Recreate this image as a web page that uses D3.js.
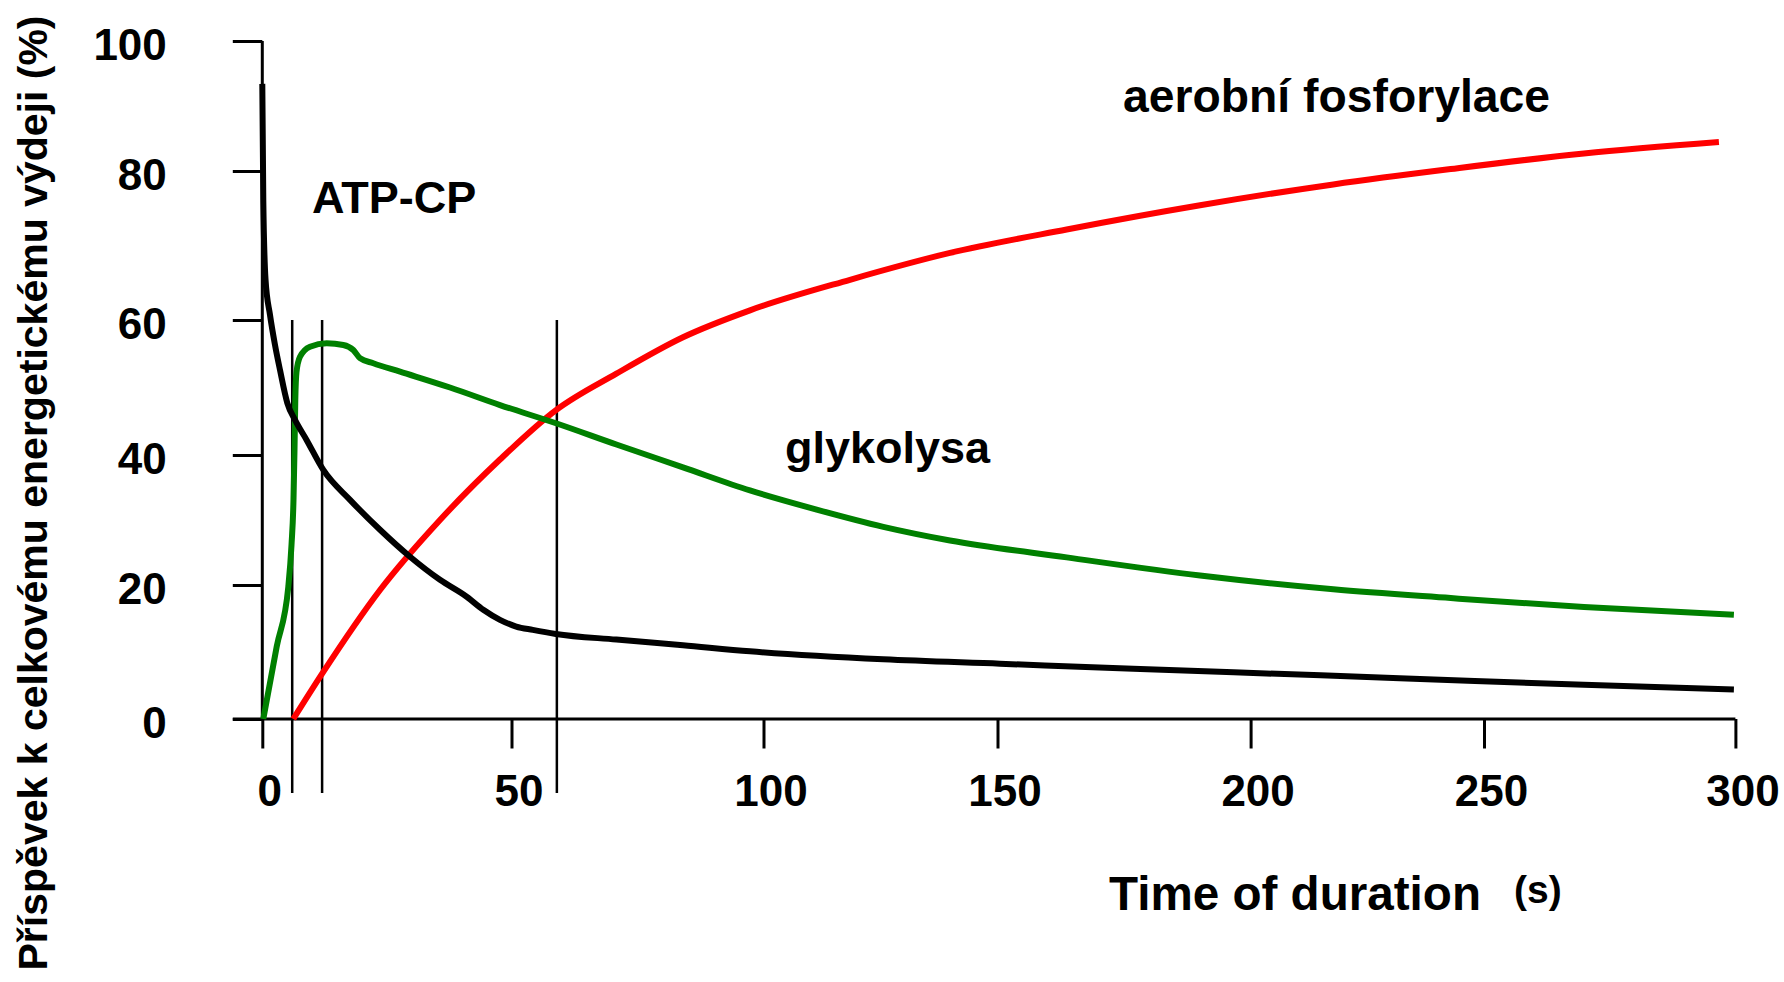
<!DOCTYPE html>
<html>
<head>
<meta charset="utf-8">
<script src="https://cdn.jsdelivr.net/npm/d3@7/dist/d3.min.js"></script>
<style>
  html, body { margin: 0; padding: 0; background: #fff; }
  svg { display: block; font-family: "Liberation Sans", Arial, sans-serif; }
</style>
</head>
<body>
<svg id="chart" width="1784" height="982"></svg>
<script>
// ---- data ----
const timeTicks = [0, 50, 100, 150, 200, 250, 300];
const percentTicks = [0, 20, 40, 60, 80, 100];
const phaseMarkers = [6, 12, 59];

const atpcpTime  = [0, 0.2, 0.65, 1.54, 2.55, 3.55, 5.02, 6.56, 8.91, 12.24, 17.6, 23.62, 29.64, 35.65, 41.01, 44.34, 47.69, 50.93, 54.23, 58.79, 70.81, 84.03, 97.32, 125.6, 150.49, 176.82, 203.36, 231.92, 269.87, 299.7];
const atpcpValue = [93.4, 76.0, 65.4, 60.7, 56.3, 52.6, 47.7, 45.2, 42.2, 37.7, 33.1, 28.5, 24.35, 20.8, 18.25, 16.3, 14.8, 13.8, 13.3, 12.7, 11.85, 11.0, 10.1, 8.9, 8.25, 7.5, 6.8, 6.1, 5.1, 4.4];

const glyTime  = [0.2, 2.89, 5.22, 5.86, 6.26, 6.46, 6.62, 6.86, 7.56, 9.57, 12.92, 16.25, 18.26, 19.6, 22.27, 27.63, 37.66, 47.69, 58.83, 70.81, 84.03, 97.32, 111.36, 125.6, 139.85, 163.67, 190.02, 217.72, 242.87, 269.87, 299.7];
const glyValue = [0, 10.8, 19.75, 26.15, 33.1, 40.7, 48.15, 52.3, 54.55, 56.05, 56.55, 56.3, 55.55, 54.35, 53.6, 52.35, 50.0, 47.4, 44.7, 41.55, 38.1, 34.55, 31.6, 28.95, 26.85, 24.25, 21.45, 19.35, 18.05, 16.7, 15.55];

const aerTime  = [6.22, 12.04, 23.62, 35.65, 47.69, 58.83, 70.81, 84.03, 97.32, 118.48, 139.85, 163.67, 190.02, 217.72, 242.87, 269.87, 296.72];
const aerValue = [0, 6.8, 19.25, 30.0, 39.3, 46.65, 52.05, 57.45, 61.3, 65.4, 69.0, 72.15, 75.4, 78.2, 80.3, 82.7, 84.45];

const seriesNames = ["ATP-CP", "glykolysa", "aerobní fosforylace"];
const yTitle = "Příspěvek k celkovému energetickému výdeji (%)";
const xTitle = "Time of duration";
const xUnit = "(s)";

// ---- drawing ----
const svg = d3.select("#chart");
const FONT = '"Liberation Sans", Arial, sans-serif';

// the reference axis is hand-calibrated (uneven tick spacing), so use polylinear scales
const x = d3.scaleLinear().domain(timeTicks).range([262.3, 511.5, 763.5, 997.5, 1250.6, 1484, 1735.4]);
const y = d3.scaleLinear().domain(percentTicks).range([719, 585, 455, 320, 171, 41]);

const tickLen = 29.5;

// Y axis
const yAxis = d3.axisLeft(y).tickValues(percentTicks).tickSize(tickLen).tickSizeOuter(0).tickPadding(66);
const gy = svg.append("g").attr("transform", `translate(${x(0)},0)`).call(yAxis);
gy.select(".domain").remove();
gy.selectAll(".tick line").attr("stroke", "#000").attr("stroke-width", 3);
gy.selectAll(".tick text").attr("dy", "0.42em")
  .style("font-family", FONT).style("font-size", "44px").style("font-weight", "bold").attr("fill", "#000");

// X axis
const xAxis = d3.axisBottom(x).tickValues(timeTicks).tickSize(tickLen).tickSizeOuter(0).tickPadding(26);
const gx = svg.append("g").attr("transform", `translate(0,${y(0)})`).call(xAxis);
gx.select(".domain").remove();
gx.selectAll(".tick line").attr("stroke", "#000").attr("stroke-width", 3);
gx.selectAll(".tick text").attr("dx", 7)
  .style("font-family", FONT).style("font-size", "44px").style("font-weight", "bold").attr("fill", "#000");

// axis lines
svg.append("line").attr("x1", x(0)).attr("x2", x(0)).attr("y1", y(100)).attr("y2", y(0))
  .attr("stroke", "#000").attr("stroke-width", 3);
svg.append("line").attr("x1", x(0) - tickLen).attr("x2", x(300)).attr("y1", y(0)).attr("y2", y(0))
  .attr("stroke", "#000").attr("stroke-width", 3.2);

// phase marker lines
svg.append("g").selectAll("line").data(phaseMarkers).join("line")
  .attr("x1", d => x(d)).attr("x2", d => x(d))
  .attr("y1", y(60)).attr("y2", y(0) + 74)
  .attr("stroke", "#000").attr("stroke-width", 2.5);

// curves
const line = d3.line().x(d => x(d[0])).y(d => y(d[1])).curve(d3.curveMonotoneX);
const series = [
  { t: aerTime, v: aerValue, color: "#ff0000" },
  { t: glyTime, v: glyValue, color: "#008000" },
  { t: atpcpTime, v: atpcpValue, color: "#000000" }
];
series.forEach(s => {
  svg.append("path")
    .datum(s.t.map((t, i) => [t, s.v[i]]))
    .attr("d", line)
    .attr("fill", "none")
    .attr("stroke", s.color)
    .attr("stroke-width", 6)
    .attr("stroke-linejoin", "round");
});

// series labels
svg.append("text").attr("x", 312).attr("y", 213).text(seriesNames[0])
  .style("font-family", FONT).style("font-size", "45px").style("font-weight", "bold");
svg.append("text").attr("x", 785).attr("y", 463).text(seriesNames[1])
  .style("font-family", FONT).style("font-size", "45px").style("font-weight", "bold");
svg.append("text").attr("x", 1123).attr("y", 112).text(seriesNames[2])
  .attr("textLength", 427).attr("lengthAdjust", "spacingAndGlyphs")
  .style("font-family", FONT).style("font-size", "46px").style("font-weight", "bold");

// axis titles
svg.append("text").attr("x", 1109).attr("y", 910).text(xTitle)
  .attr("textLength", 372).attr("lengthAdjust", "spacingAndGlyphs")
  .style("font-family", FONT).style("font-size", "48px").style("font-weight", "bold");
svg.append("text").attr("x", 1514).attr("y", 903).text(xUnit)
  .style("font-family", FONT).style("font-size", "39px").style("font-weight", "bold");

svg.append("text")
  .attr("transform", "translate(47,493) rotate(-90)")
  .attr("text-anchor", "middle")
  .attr("textLength", 955).attr("lengthAdjust", "spacingAndGlyphs")
  .text(yTitle)
  .style("font-family", FONT).style("font-size", "41px").style("font-weight", "bold");
</script>
</body>
</html>
